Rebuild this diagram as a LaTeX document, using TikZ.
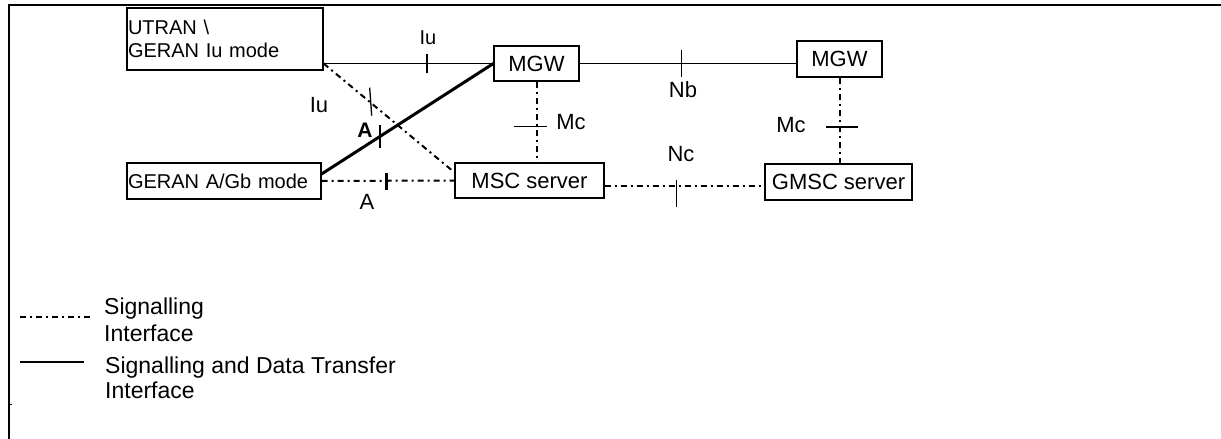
\documentclass[tikz,border=0pt]{standalone}
\usepackage{fontspec}
\setmainfont{Liberation Sans}
\usetikzlibrary{calc}
\begin{document}
\begin{tikzpicture}[x=1pt,y=-1pt,
  box/.style={draw, line width=1.2pt, inner sep=0pt, font=\fontsize{22}{26}\selectfont},
  lbox/.style={box, align=left, font=\fontsize{20}{23}\selectfont},
  sigline/.style={line width=2pt, dash pattern=on 6pt off 4pt on 2pt off 4pt},
  thinline/.style={line width=1.3pt},
  dataline/.style={line width=3pt},
  ticks/.style={line width=1.3pt},
  bticks/.style={line width=2.5pt},
  lab/.style={font=\fontsize{22}{26}\selectfont, inner sep=0pt},
  legtext/.style={font=\fontsize{23}{27}\selectfont, align=left, inner sep=0pt, anchor=north west}
]
\useasboundingbox (0,0) rectangle (1221,439);
\draw[line width=2pt] (9,439) -- (9,5) -- (1221,5);
\draw[line width=1pt] (9,404) -- (12,404);

% nodes
\node[lbox, text width=194pt, minimum height=62pt, inner xsep=1pt] (utran) at (225,39) {UTRAN \textbackslash\\GERAN Iu mode};
\node[lbox, text width=192pt, minimum height=36pt, inner xsep=1pt] (geran) at (224,181) {GERAN A/Gb mode};
\node[box, minimum width=149pt, minimum height=35pt] (msc) at (529.5,180.5) {MSC server};
\node[box, minimum width=85pt, minimum height=35pt] (mgw1) at (536.5,63.5) {MGW};
\node[box, minimum width=85pt, minimum height=36pt] (mgw2) at (839.5,59) {MGW};
\node[box, minimum width=147pt, minimum height=36pt] (gmsc) at (838.5,182) {GMSC server};

% Iu (solid)
\draw[thinline] (mgw1.west -| utran.east) -- coordinate[pos=0.61] (tIu) (mgw1.west);
\draw[bticks] ($(tIu)+(0,-10)$) -- ($(tIu)+(0,9)$);
% A (data)
\draw[dataline] ($(geran.east)+(0,-7)$) -- coordinate[pos=0.34] (tA) (mgw1.west);
\draw[bticks] ($(tA)+(0,-11)$) -- ($(tA)+(0,12)$);
% Iu signalling
\draw[sigline] (mgw1.west -| utran.east) -- coordinate[pos=0.36] (tIu2) ($(msc.north west)+(0,10)$);
\draw[ticks] ($(tIu2)+(-1,-15)$) -- ($(tIu2)+(1,13)$);
% A signalling
\draw[sigline] (geran.east) -- coordinate[pos=0.49] (tA2) (msc.west);
\draw[bticks] ($(tA2)+(0,-8)$) -- ($(tA2)+(0,9)$);
% Nb
\draw[thinline] (mgw1.east) -- coordinate[pos=0.47] (tNb) (mgw1.east -| mgw2.west);
\draw[ticks] ($(tNb)+(0,-14)$) -- ($(tNb)+(0,13)$);
% Mc
\draw[sigline] (mgw1.south) -- coordinate[pos=0.56] (tMc1) (mgw1.south |- msc.north);
\draw[ticks] ($(tMc1)+(-23,0)$) -- ($(tMc1)+(10,0)$);
\draw[sigline] (mgw2.south) -- coordinate[pos=0.575] (tMc2) (mgw2.south |- gmsc.north);
\draw[ticks] ($(tMc2)+(-14,0)$) -- ($(tMc2)+(18,0)$);
% Nc
\coordinate (ncs) at ($(msc.east)+(0,5)$);
\draw[sigline] (ncs) -- coordinate[pos=0.45] (tNc) (ncs -| gmsc.west);
\draw[ticks] ($(tNc)+(0,-6)$) -- ($(tNc)+(0,21)$);

% labels
\node[lab, font=\fontsize{20}{24}\selectfont] (lIu1) at (428,38) {Iu};
\node[lab] (lIu2) at (319,105) {Iu};
\node[lab, font=\bfseries\fontsize{21}{25}\selectfont] (lA1) at (365,130) {A};
\node[lab] (lA2) at (367,202) {A};
\node[lab] (lNb) at (683,90) {Nb};
\node[lab] (lMc1) at (571,122) {Mc};
\node[lab] (lMc2) at (791,125) {Mc};
\node[lab] (lNc) at (681,154) {Nc};

% legend
\coordinate (lg1a) at (20,317);
\coordinate (lg1b) at (92,317);
\draw[sigline] (lg1a) -- (lg1b);
\node[legtext] (lgt1) at (104,298) {Signalling\\Interface};
\coordinate (lg2a) at (20,362);
\coordinate (lg2b) at (84,362);
\draw[line width=1.6pt] (lg2a) -- (lg2b);
\node[legtext, font=\fontsize{23}{25}\selectfont] (lgt2) at (105,357) {Signalling and Data Transfer\\Interface};
\end{tikzpicture}
\end{document}
